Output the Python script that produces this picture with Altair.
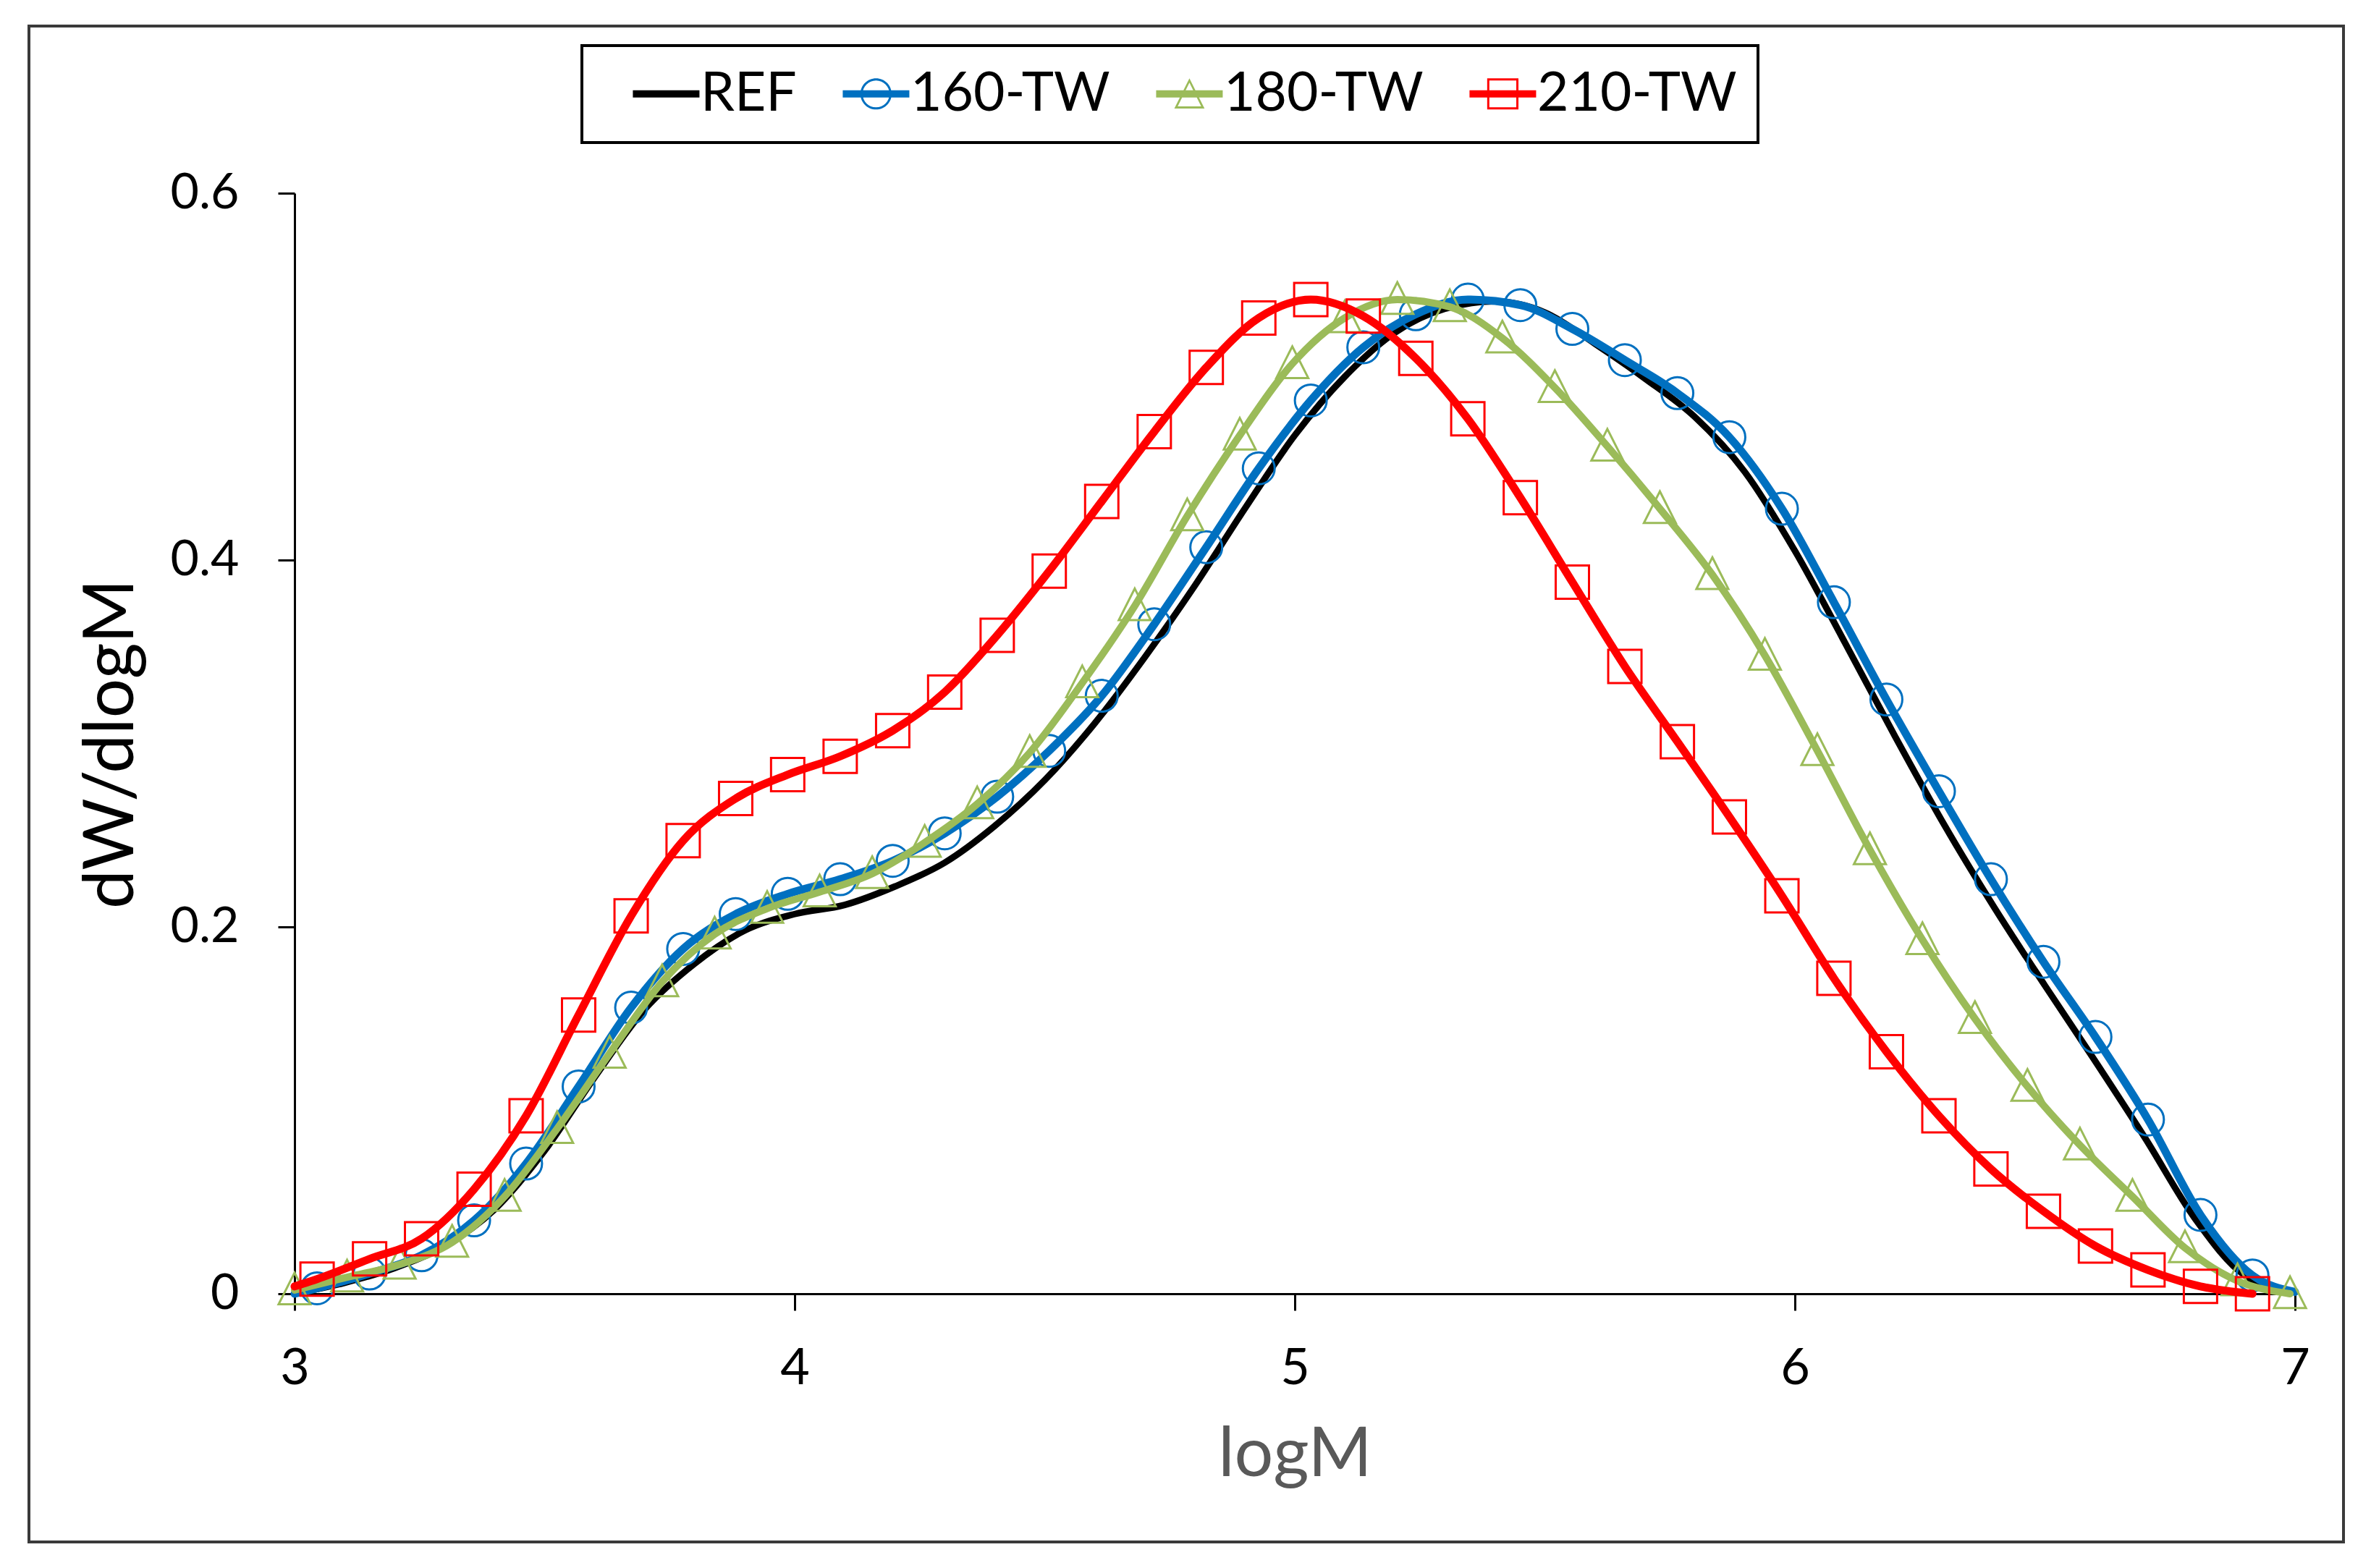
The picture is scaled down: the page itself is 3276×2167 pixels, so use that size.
import altair as alt
import pandas as pd

SERIES = ["REF", "160-TW", "180-TW", "210-TW"]
COLORS = ["#000000", "#0070C0", "#9BBB59", "#FF0000"]

ref_x = [3.0, 3.1, 3.2, 3.3, 3.4, 3.5, 3.6, 3.7, 3.8, 3.9, 4.0, 4.1, 4.2, 4.3,
         4.4, 4.5, 4.6, 4.7, 4.8, 4.9, 5.0, 5.1, 5.2, 5.3, 5.4, 5.5, 5.6, 5.7,
         5.8, 5.9, 6.0, 6.1, 6.2, 6.3, 6.4, 6.5, 6.6, 6.7, 6.8, 6.9, 7.0]
ref_y = [0.000, 0.006, 0.014, 0.026, 0.046, 0.078, 0.118, 0.155, 0.180, 0.198,
         0.207, 0.212, 0.222, 0.235, 0.255, 0.280, 0.311, 0.347, 0.386, 0.428,
         0.468, 0.500, 0.524, 0.537, 0.541, 0.535, 0.518, 0.499, 0.478, 0.448,
         0.405, 0.355, 0.304, 0.255, 0.210, 0.168, 0.127, 0.085, 0.041, 0.010,
         0.001]

tw160_x = [3.045, 3.150, 3.254, 3.359, 3.463, 3.568, 3.673, 3.777, 3.882, 3.986,
           4.091, 4.196, 4.300, 4.405, 4.509, 4.614, 4.719, 4.823, 4.928, 5.032,
           5.137, 5.242, 5.346, 5.451, 5.555, 5.660, 5.765, 5.869, 5.974, 6.078,
           6.183, 6.288, 6.392, 6.497, 6.601, 6.706, 6.811, 6.915]
tw160_y = [0.003, 0.011, 0.021, 0.040, 0.071, 0.113, 0.156, 0.188, 0.207, 0.218,
           0.226, 0.236, 0.251, 0.271, 0.296, 0.326, 0.365, 0.407, 0.450, 0.487,
           0.516, 0.534, 0.542, 0.539, 0.526, 0.509, 0.491, 0.467, 0.428, 0.377,
           0.324, 0.274, 0.226, 0.181, 0.140, 0.095, 0.043, 0.010]
tw160_end_x = [3.0, 7.0]
tw160_end_y = [0.0, 0.001]

tw180_x = [3.000, 3.105, 3.210, 3.315, 3.420, 3.525, 3.630, 3.735, 3.840, 3.945,
           4.050, 4.155, 4.260, 4.365, 4.470, 4.575, 4.680, 4.785, 4.890, 4.995,
           5.100, 5.205, 5.310, 5.415, 5.520, 5.625, 5.730, 5.835, 5.940, 6.045,
           6.150, 6.255, 6.360, 6.465, 6.570, 6.675, 6.780, 6.885, 6.990]
tw180_y = [0.002, 0.009, 0.016, 0.028, 0.053, 0.090, 0.131, 0.170, 0.196, 0.210,
           0.219, 0.229, 0.246, 0.267, 0.295, 0.333, 0.375, 0.424, 0.468, 0.507,
           0.532, 0.542, 0.538, 0.521, 0.494, 0.462, 0.428, 0.392, 0.348, 0.296,
           0.242, 0.193, 0.150, 0.113, 0.081, 0.053, 0.025, 0.007, 0.000]

tw210_x = [3.045, 3.150, 3.254, 3.359, 3.463, 3.568, 3.673, 3.777, 3.882, 3.986,
           4.091, 4.196, 4.300, 4.405, 4.509, 4.614, 4.719, 4.823, 4.928, 5.032,
           5.137, 5.242, 5.346, 5.451, 5.555, 5.660, 5.765, 5.869, 5.974, 6.078,
           6.183, 6.288, 6.392, 6.497, 6.601, 6.706, 6.811, 6.915]
tw210_y = [0.008, 0.019, 0.030, 0.057, 0.097, 0.152, 0.206, 0.247, 0.270, 0.283,
           0.293, 0.307, 0.328, 0.359, 0.394, 0.432, 0.470, 0.505, 0.532, 0.542,
           0.533, 0.510, 0.477, 0.434, 0.388, 0.342, 0.301, 0.260, 0.217, 0.172,
           0.132, 0.097, 0.068, 0.045, 0.026, 0.013, 0.004, 0.000]
tw210_end_x = [3.0]
tw210_end_y = [0.004]

x_ticks = [3, 4, 5, 6, 7]
y_ticks = [0, 0.2, 0.4, 0.6]

FONT = "Lato"


def frame(name, xs, ys):
    return pd.DataFrame({"logM": xs, "val": ys, "series": name})


ref_line = frame("REF", ref_x, ref_y)
b_pts = frame("160-TW", tw160_x, tw160_y)
b_line = pd.concat([b_pts, frame("160-TW", tw160_end_x, tw160_end_y)])
g_pts = frame("180-TW", tw180_x, tw180_y)
r_pts = frame("210-TW", tw210_x, tw210_y)
r_line = pd.concat([r_pts, frame("210-TW", tw210_end_x, tw210_end_y)])

# plot marker triangle (Excel-like, as wide as tall)
TRI_MARK = "M0,-1L0.92,0.82L-0.92,0.82Z"

# legend symbols: thick line + ring-shaped marker (fill only, nonzero winding),
# drawn shifted right of the nominal symbol box to leave Excel-like margins
LINE = "M0.109,-0.14L2.665,-0.14L2.665,0.14L0.109,0.14Z"
CIRC = ("M1.987,0A0.6,0.6 0 1,1 0.787,0A0.6,0.6 0 1,1 1.987,0Z"
        "M1.904,0A0.517,0.517 0 1,0 0.870,0A0.517,0.517 0 1,0 1.904,0Z")
TRI = ("M1.387,-0.6L1.967,0.56L0.807,0.56Z"
       "M1.387,-0.43L0.937,0.478L1.837,0.478Z")
SQ = ("M0.787,-0.6L1.987,-0.6L1.987,0.6L0.787,0.6Z"
      "M0.870,-0.517L0.870,0.517L1.904,0.517L1.904,-0.517Z")
LEG_SHAPES = [LINE, LINE + CIRC, LINE + TRI, LINE + SQ]

x_axis = alt.Axis(values=x_ticks, format="d", title="logM", grid=False,
                  labelFont=FONT, labelFontSize=70, labelColor="black",
                  labelPadding=46, labelFlush=False, tickSize=23, tickWidth=3,
                  tickColor="black", domainColor="black", domainWidth=3,
                  titleFont=FONT, titleFontSize=95, titleFontWeight="normal",
                  titleColor="#595959", titlePadding=38)
y_axis = alt.Axis(values=y_ticks, format="~g", title="dW/dlogM", grid=False,
                  labelFont=FONT, labelFontSize=68, labelColor="black",
                  labelPadding=54, labelFlush=False, tickSize=23, tickWidth=3,
                  tickColor="black", domainColor="black", domainWidth=3,
                  titleFont=FONT, titleFontSize=96, titleFontWeight="normal",
                  titleColor="black", titlePadding=32)

X = alt.X("logM:Q", scale=alt.Scale(domain=[3, 7], nice=False), axis=x_axis)
Y = alt.Y("val:Q", scale=alt.Scale(domain=[0, 0.6], nice=False), axis=y_axis)


def line_layer(df, color, width):
    return alt.Chart(df).mark_line(strokeWidth=width, interpolate="monotone",
                                   strokeCap="round", color=color).encode(
        x=X, y=Y, order="logM:Q")


def pts_layer(df, shape, size, color):
    return alt.Chart(df).mark_point(shape=shape, filled=False, size=size,
                                    strokeWidth=3, opacity=1, color=color).encode(
        x=X, y=Y)


border = alt.Chart(pd.DataFrame({"k": [0]})).mark_rect(
    fillOpacity=0, stroke="#3a3a3a", strokeWidth=4).encode(
    x=alt.value(-367), x2=alt.value(2831), y=alt.value(-231), y2=alt.value(1864))

legend_df = pd.DataFrame({"series": SERIES, "logM": [3, 3, 3, 3], "val": [0, 0, 0, 0]})
legend_layer = alt.Chart(legend_df).mark_point(filled=True, opacity=1).encode(
    x=X, y=Y,
    color=alt.Color("series:N", scale=alt.Scale(domain=SERIES, range=COLORS),
                    legend=alt.Legend(title=None)),
    shape=alt.Shape("series:N", scale=alt.Scale(domain=SERIES, range=LEG_SHAPES),
                    legend=alt.Legend(title=None)),
).transform_filter("false")

chart = alt.layer(
    border,
    line_layer(ref_line, COLORS[0], 9),
    line_layer(b_line, COLORS[1], 11),
    pts_layer(b_pts, "circle", 1936, COLORS[1]),
    line_layer(g_pts, COLORS[2], 10),
    pts_layer(g_pts, TRI_MARK, 2304, COLORS[2]),
    line_layer(r_line, COLORS[3], 11),
    pts_layer(r_pts, "square", 2116, COLORS[3]),
    legend_layer,
).properties(
    width=2764, height=1521,
    autosize=alt.AutoSizeParams(type="none"),
    padding={"left": 399, "top": 259, "right": 90, "bottom": 350},
    background="white",
).configure_view(strokeWidth=0).configure_legend(
    orient="none", legendX=397, legendY=-204, direction="horizontal",
    labelFont=FONT, labelFontSize=75, labelColor="black", labelOffset=60,
    labelLimit=600, symbolSize=5184, symbolStrokeWidth=0, symbolOpacity=1,
    columnPadding=22, padding=29, strokeColor="black", strokeWidth=4,
    fillColor="white",
)

chart.save("out.html", embed_options={"renderer": "svg", "actions": False})
